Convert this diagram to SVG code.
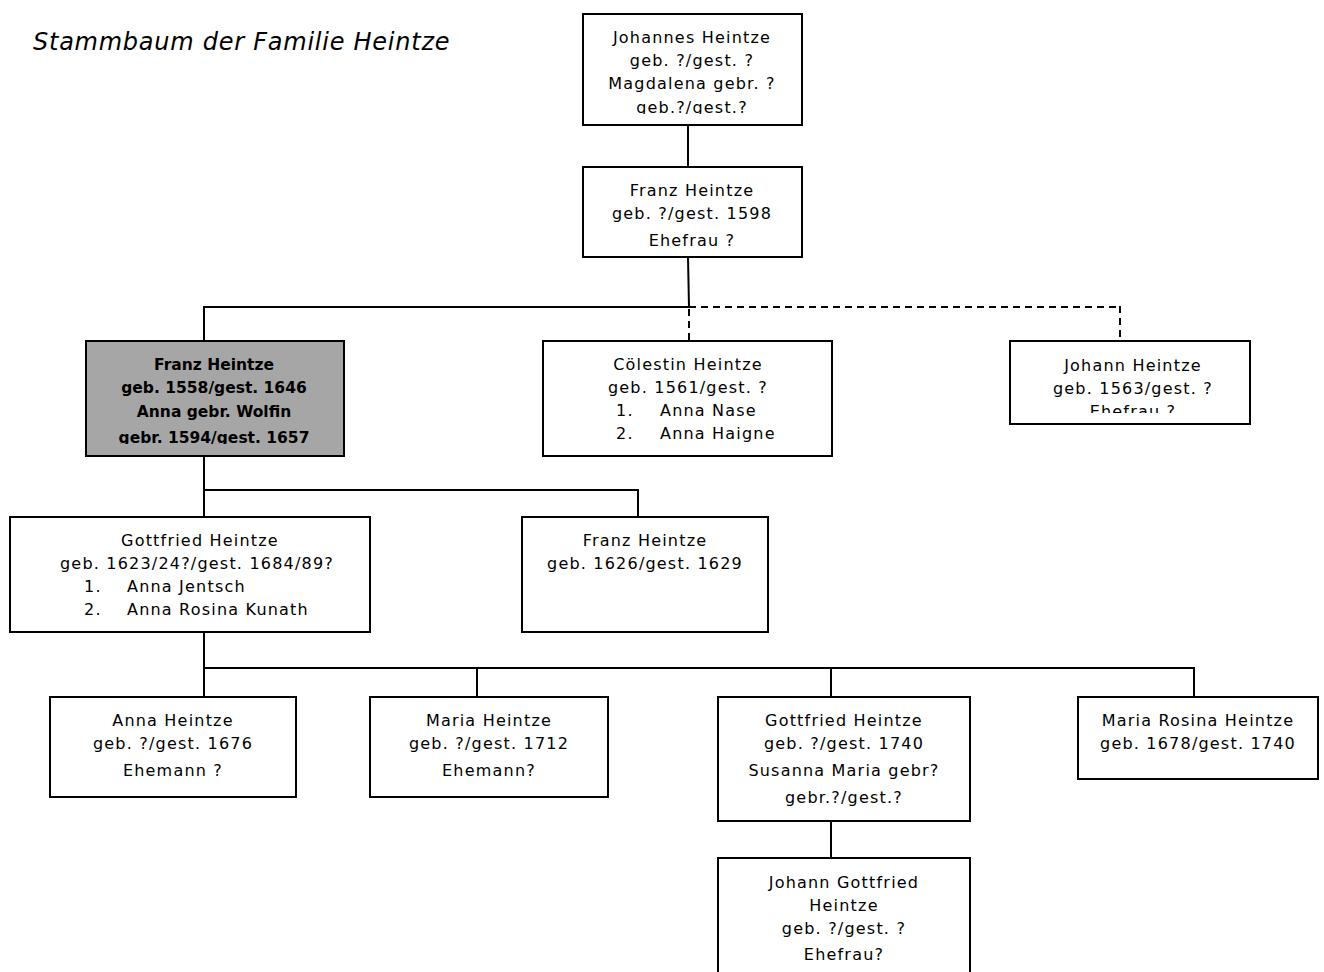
<svg xmlns="http://www.w3.org/2000/svg" width="1324" height="972" viewBox="0 0 1324 972">
<style>
.box{fill:#fff;stroke:#000;stroke-width:2}
.hl{fill:#a6a6a6;stroke:#000;stroke-width:2}
.t{font-family:"DejaVu Sans",sans-serif;font-size:16px;letter-spacing:1.2px;fill:#000;text-anchor:middle}
.l{text-anchor:start}
.b{font-family:"DejaVu Sans",sans-serif;font-size:15.5px;font-weight:bold;fill:#000;text-anchor:middle}
.title{font-family:"DejaVu Sans",sans-serif;font-size:24px;font-style:italic;letter-spacing:0.75px;fill:#000}
.c{stroke:#000;stroke-width:2;fill:none}
.d{stroke:#000;stroke-width:2;fill:none;stroke-dasharray:7 5}
</style>
<defs>
<clipPath id="cp1"><rect x="583" y="14" width="219" height="100"/></clipPath>
<clipPath id="cp3"><rect x="86" y="341" width="258" height="103"/></clipPath>
<clipPath id="cp5"><rect x="1010" y="341" width="240" height="72"/></clipPath>
</defs>
<rect width="1324" height="972" fill="#fff"/>
<text class="title" x="33" y="50">Stammbaum der Familie Heintze</text>
<g id="connectors">
<line class="c" x1="688" y1="125" x2="688" y2="167"/>
<line class="c" x1="688" y1="257" x2="689" y2="307"/>
<line class="c" x1="203" y1="307" x2="689" y2="307"/>
<line class="d" x1="689" y1="307" x2="1120" y2="307"/>
<line class="c" x1="204" y1="306" x2="204" y2="341"/>
<line class="d" x1="689" y1="309" x2="689" y2="341"/>
<line class="d" x1="1120" y1="306" x2="1120" y2="341"/>
<line class="c" x1="204" y1="456" x2="204" y2="517"/>
<line class="c" x1="203" y1="490" x2="639" y2="490"/>
<line class="c" x1="638" y1="489" x2="638" y2="517"/>
<line class="c" x1="204" y1="632" x2="204" y2="697"/>
<line class="c" x1="203" y1="668" x2="1195" y2="668"/>
<line class="c" x1="477" y1="667" x2="477" y2="697"/>
<line class="c" x1="831" y1="667" x2="831" y2="697"/>
<line class="c" x1="1194" y1="667" x2="1194" y2="697"/>
<line class="c" x1="831" y1="821" x2="831" y2="858"/>
</g>
<g id="n1">
<rect class="box" x="583" y="14" width="219" height="111"/>
<text class="t" x="692" y="42.5">Johannes Heintze</text>
<text class="t" x="692" y="65.5">geb. ?/gest. ?</text>
<text class="t" x="692" y="88.5">Magdalena gebr. ?</text>
<text class="t" x="692" y="112.5" clip-path="url(#cp1)">geb.?/gest.?</text>
</g>
<g id="n2">
<rect class="box" x="583" y="167" width="219" height="90"/>
<text class="t" x="692" y="195.5">Franz Heintze</text>
<text class="t" x="692" y="218.5">geb. ?/gest. 1598</text>
<text class="t" x="692" y="245.5">Ehefrau ?</text>
</g>
<g id="n3">
<rect class="hl" x="86" y="341" width="258" height="115"/>
<text class="b" x="214" y="369.5">Franz Heintze</text>
<text class="b" x="214" y="392.5">geb. 1558/gest. 1646</text>
<text class="b" x="214" y="416.5">Anna gebr. Wolfin</text>
<text class="b" x="214" y="442.5" clip-path="url(#cp3)">gebr. 1594/gest. 1657</text>
</g>
<g id="n4">
<rect class="box" x="543" y="341" width="289" height="115"/>
<text class="t" x="688" y="369.5">Cölestin Heintze</text>
<text class="t" x="688" y="392.5">geb. 1561/gest. ?</text>
<text class="t l" x="616" y="415.5">1.</text>
<text class="t l" x="660" y="415.5">Anna Nase</text>
<text class="t l" x="616" y="438.5">2.</text>
<text class="t l" x="660" y="438.5">Anna Haigne</text>
</g>
<g id="n5">
<rect class="box" x="1010" y="341" width="240" height="83"/>
<text class="t" x="1133" y="370.5">Johann Heintze</text>
<text class="t" x="1133" y="393.5">geb. 1563/gest. ?</text>
<text class="t" x="1133" y="417" clip-path="url(#cp5)">Ehefrau ?</text>
</g>
<g id="n6">
<rect class="box" x="10" y="517" width="360" height="115"/>
<text class="t" x="200" y="545.5">Gottfried Heintze</text>
<text class="t" x="197" y="568.5">geb. 1623/24?/gest. 1684/89?</text>
<text class="t l" x="84" y="591.5">1.</text>
<text class="t l" x="127" y="591.5">Anna Jentsch</text>
<text class="t l" x="84" y="614.5">2.</text>
<text class="t l" x="127" y="614.5">Anna Rosina Kunath</text>
</g>
<g id="n7">
<rect class="box" x="522" y="517" width="246" height="115"/>
<text class="t" x="645" y="545.5">Franz Heintze</text>
<text class="t" x="645" y="568.5">geb. 1626/gest. 1629</text>
</g>
<g id="n8">
<rect class="box" x="50" y="697" width="246" height="100"/>
<text class="t" x="173" y="725.5">Anna Heintze</text>
<text class="t" x="173" y="748.5">geb. ?/gest. 1676</text>
<text class="t" x="173" y="775.5">Ehemann ?</text>
</g>
<g id="n9">
<rect class="box" x="370" y="697" width="238" height="100"/>
<text class="t" x="489" y="725.5">Maria Heintze</text>
<text class="t" x="489" y="748.5">geb. ?/gest. 1712</text>
<text class="t" x="489" y="775.5">Ehemann?</text>
</g>
<g id="n10">
<rect class="box" x="718" y="697" width="252" height="124"/>
<text class="t" x="844" y="725.5">Gottfried Heintze</text>
<text class="t" x="844" y="748.5">geb. ?/gest. 1740</text>
<text class="t" x="844" y="775.5">Susanna Maria gebr?</text>
<text class="t" x="844" y="802.5">gebr.?/gest.?</text>
</g>
<g id="n11">
<rect class="box" x="1078" y="697" width="240" height="82"/>
<text class="t" x="1198" y="725.5">Maria Rosina Heintze</text>
<text class="t" x="1198" y="748.5">geb. 1678/gest. 1740</text>
</g>
<g id="n12">
<rect class="box" x="718" y="858" width="252" height="130"/>
<text class="t" x="844" y="887.5">Johann Gottfried</text>
<text class="t" x="844" y="910.5">Heintze</text>
<text class="t" x="844" y="933.5">geb. ?/gest. ?</text>
<text class="t" x="844" y="959.5">Ehefrau?</text>
</g>
</svg>
